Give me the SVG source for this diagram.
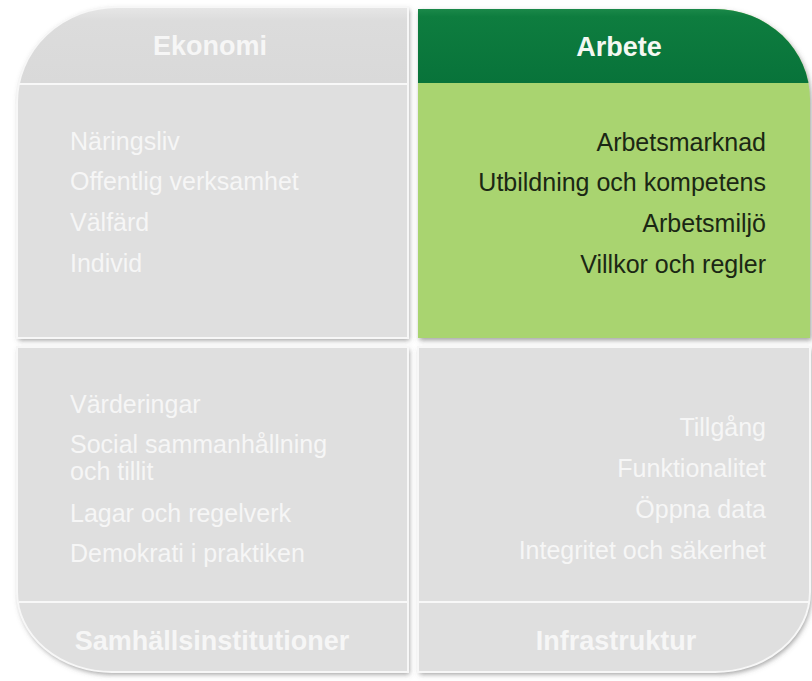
<svg xmlns="http://www.w3.org/2000/svg" width="812" height="681" viewBox="0 0 812 681">
  <defs>
    <filter id="sh" x="-10%" y="-10%" width="120%" height="120%">
      <feDropShadow dx="1.5" dy="2.5" stdDeviation="2.5" flood-color="#555" flood-opacity="0.55"/>
    </filter>
    <linearGradient id="grayHead" x1="0" y1="0" x2="0" y2="1">
      <stop offset="0" stop-color="#ececec"/>
      <stop offset="0.25" stop-color="#dcdcdc"/>
      <stop offset="1" stop-color="#d9d9d9"/>
    </linearGradient>
    <linearGradient id="greenHead" x1="0" y1="0" x2="0" y2="1">
      <stop offset="0" stop-color="#2a9656"/>
      <stop offset="0.2" stop-color="#0e7d3f"/>
      <stop offset="1" stop-color="#08733a"/>
    </linearGradient>
    <clipPath id="cTL"><path d="M117 7 H408 V338 H17 V102 A100 95 0 0 1 117 7 Z"/></clipPath>
    <clipPath id="cTR"><path d="M418 9 H715 A95 90 0 0 1 810 99 V338 H418 Z"/></clipPath>
    <clipPath id="cBL"><path d="M17 347 H408 V672 H112 A95 80 0 0 1 17 592 Z"/></clipPath>
    <clipPath id="cBR"><path d="M418 347 H810 V592 A95 80 0 0 1 715 672 H418 Z"/></clipPath>
  </defs>
  <style>
    .gray { fill: #dfdfdf; }
    .rim { fill: none; stroke: #f7f7f7; stroke-width: 2; }
    .sep { stroke: #f8f8f8; stroke-width: 2; }
    .head { font-family: "Liberation Sans", Arial, sans-serif; font-weight: bold; font-size: 27px; text-anchor: middle; }
    .item { font-family: "Liberation Sans", Arial, sans-serif; font-size: 25px; }
    .w { fill: #f6f6f6; }
    .dk { fill: #1b2714; }
    .r { text-anchor: end; }
  </style>
  <rect width="812" height="681" fill="#ffffff"/>

  <g id="ekonomi">
    <path filter="url(#sh)" class="gray" d="M117 7 H408 V338 H17 V102 A100 95 0 0 1 117 7 Z"/>
    <g clip-path="url(#cTL)">
      <rect x="0" y="0" width="420" height="83" fill="url(#grayHead)"/>
    </g>
    <line class="sep" x1="18" y1="84" x2="407" y2="84"/>
    <path class="rim" d="M117 7 H408 V338 H17 V102 A100 95 0 0 1 117 7 Z" stroke="#b0b0b0" stroke-width="1"/>
    <text class="head w" x="210" y="55">Ekonomi</text>
    <text class="item w" x="70" y="150">Näringsliv</text>
    <text class="item w" x="70" y="190">Offentlig verksamhet</text>
    <text class="item w" x="70" y="231">Välfärd</text>
    <text class="item w" x="70" y="272">Individ</text>
  </g>

  <g id="arbete">
    <path filter="url(#sh)" fill="#a9d470" d="M418 9 H715 A95 90 0 0 1 810 99 V338 H418 Z"/>
    <g clip-path="url(#cTR)">
      <rect x="410" y="0" width="410" height="83" fill="url(#greenHead)"/>
    </g>
    <text class="head" fill="#f4f8f2" x="619" y="56">Arbete</text>
    <text class="item dk r" x="766" y="151">Arbetsmarknad</text>
    <text class="item dk r" x="766" y="191">Utbildning och kompetens</text>
    <text class="item dk r" x="766" y="232">Arbetsmiljö</text>
    <text class="item dk r" x="766" y="273">Villkor och regler</text>
  </g>

  <g id="samhallsinstitutioner">
    <path filter="url(#sh)" class="gray" d="M17 347 H408 V672 H112 A95 80 0 0 1 17 592 Z"/>
    <line class="sep" x1="19" y1="602" x2="407" y2="602"/>
    <path class="rim" d="M17 347 H408 V672 H112 A95 80 0 0 1 17 592 Z" stroke="#c4c4c4" stroke-width="1"/>
    <text class="item w" x="70" y="413">Värderingar</text>
    <text class="item w" x="70" y="453">Social sammanhållning</text>
    <text class="item w" x="70" y="480">och tillit</text>
    <text class="item w" x="70" y="522">Lagar och regelverk</text>
    <text class="item w" x="70" y="562">Demokrati i praktiken</text>
    <text class="head w" x="212" y="650">Samhällsinstitutioner</text>
  </g>

  <g id="infrastruktur">
    <path filter="url(#sh)" class="gray" d="M418 347 H810 V592 A95 80 0 0 1 715 672 H418 Z"/>
    <line class="sep" x1="419" y1="602" x2="809" y2="602"/>
    <path class="rim" d="M418 347 H810 V592 A95 80 0 0 1 715 672 H418 Z" stroke="#c4c4c4" stroke-width="1"/>
    <text class="item w r" x="766" y="436">Tillgång</text>
    <text class="item w r" x="766" y="477">Funktionalitet</text>
    <text class="item w r" x="766" y="518">Öppna data</text>
    <text class="item w r" x="766" y="559">Integritet och säkerhet</text>
    <text class="head w" x="616" y="650">Infrastruktur</text>
  </g>

  <g id="connectors"/>
</svg>
